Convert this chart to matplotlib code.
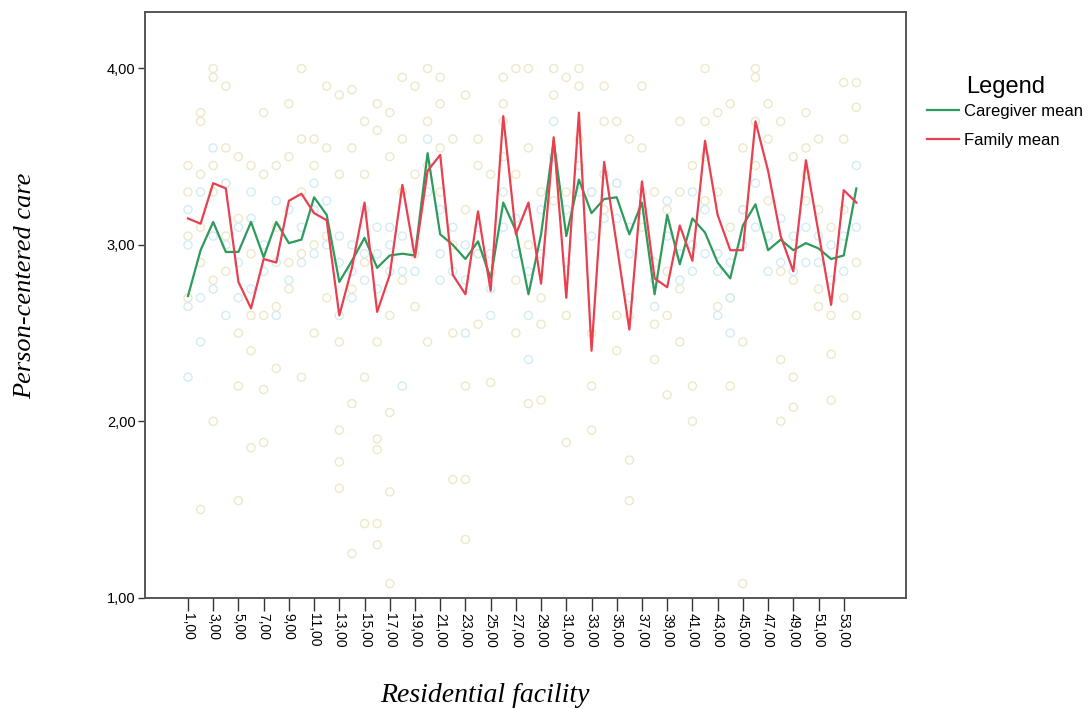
import numpy as np
import matplotlib
matplotlib.use('Agg')
import matplotlib.pyplot as plt

# Facility numbers 1..54 and the two mean lines
facilities = list(range(1, 55))

caregiver_mean = [2.71, 2.97, 3.13, 2.96, 2.96, 3.13, 2.93, 3.13, 3.01, 3.03,
                  3.27, 3.17, 2.79, 2.91, 3.04, 2.87, 2.94, 2.95, 2.94, 3.52,
                  3.06, 3.00, 2.92, 3.02, 2.81, 3.24, 3.08, 2.72, 3.06, 3.59,
                  3.05, 3.37, 3.18, 3.26, 3.27, 3.06, 3.24, 2.72, 3.17, 2.89,
                  3.15, 3.07, 2.90, 2.81, 3.11, 3.23, 2.97, 3.03, 2.97, 3.01,
                  2.98, 2.92, 2.94, 3.32]

family_mean = [3.15, 3.12, 3.35, 3.32, 2.79, 2.64, 2.92, 2.90, 3.25, 3.29,
               3.18, 3.14, 2.60, 2.87, 3.24, 2.62, 2.83, 3.34, 2.93, 3.42,
               3.51, 2.83, 2.72, 3.19, 2.74, 3.73, 3.06, 3.24, 2.78, 3.61,
               2.70, 3.75, 2.40, 3.47, 3.00, 2.52, 3.36, 2.81, 2.76, 3.11,
               2.91, 3.59, 3.17, 2.97, 2.97, 3.70, 3.42, 3.05, 2.85, 3.48,
               3.07, 2.66, 3.31, 3.24]

# individual answers (faint circles), one list per facility
family_points = [
    [3.45, 3.3, 3.05, 2.7], [3.75, 3.7, 3.4, 1.5, 2.9, 3.1],
    [4.0, 3.95, 3.45, 3.3, 2.0, 2.8], [3.9, 3.55, 3.35, 2.85, 3.05],
    [3.5, 3.15, 2.5, 1.55, 2.2], [3.45, 2.95, 2.4, 1.85, 2.6],
    [3.75, 3.4, 2.18, 1.88, 2.6], [3.45, 3.1, 2.65, 2.3],
    [3.8, 3.5, 2.9, 2.75], [4.0, 3.6, 3.3, 2.95, 2.25],
    [3.6, 3.45, 3.0, 2.5], [3.9, 3.55, 3.05, 2.7],
    [3.85, 3.4, 2.45, 1.95, 1.77, 1.62], [3.88, 3.55, 2.75, 2.1, 1.25],
    [3.7, 3.4, 2.9, 2.25, 1.42], [3.8, 3.65, 2.45, 1.9, 1.84, 1.42, 1.3],
    [3.75, 3.5, 2.6, 2.05, 1.6, 1.08], [3.95, 3.6, 3.3, 2.8],
    [3.9, 3.4, 2.95, 2.65], [4.0, 3.7, 3.45, 2.45],
    [3.95, 3.8, 3.55, 3.3], [3.6, 3.0, 2.5, 1.67],
    [3.85, 3.2, 2.2, 1.67, 1.33], [3.6, 3.45, 2.95, 2.55],
    [3.4, 2.85, 2.22], [3.95, 3.8, 3.7, 3.5],
    [4.0, 3.4, 2.8, 2.5], [4.0, 3.55, 3.0, 2.1],
    [3.3, 2.7, 2.55, 2.12], [4.0, 3.85, 3.5, 3.25],
    [3.95, 3.3, 2.6, 1.88], [4.0, 3.9, 3.6, 3.45],
    [3.3, 2.5, 2.2, 1.95], [3.9, 3.7, 3.4, 3.2],
    [3.7, 3.35, 2.6, 2.4], [3.6, 2.6, 1.78, 1.55],
    [3.9, 3.55, 3.2, 3.1], [3.3, 2.9, 2.55, 2.35],
    [3.2, 2.85, 2.6, 2.15], [3.7, 3.3, 2.75, 2.45],
    [3.45, 3.0, 2.2, 2.0], [4.0, 3.7, 3.5, 3.25],
    [3.75, 3.3, 2.95, 2.65], [3.8, 3.1, 2.7, 2.2],
    [3.55, 3.2, 2.45, 1.08], [4.0, 3.95, 3.7, 3.45],
    [3.8, 3.6, 3.25, 3.05], [3.7, 2.85, 2.35, 2.0],
    [3.5, 2.8, 2.25, 2.08], [3.75, 3.55, 3.4, 3.25],
    [3.6, 3.2, 2.75, 2.65], [3.1, 2.6, 2.38, 2.12],
    [3.92, 3.6, 3.2, 2.7], [3.92, 3.78, 2.9, 2.6],
]

caregiver_points = [
    [2.25, 2.65, 3.0, 3.2], [2.45, 2.7, 3.3], [3.55, 2.75, 3.05],
    [3.0, 2.6, 3.35], [2.7, 3.1, 2.9], [3.3, 2.75, 3.15], [2.85, 3.0],
    [3.25, 2.9, 2.6], [3.2, 2.8], [3.1, 2.9], [3.35, 3.2, 2.95],
    [3.25, 3.0], [2.9, 2.6, 3.05], [3.0, 2.85, 2.7], [3.2, 2.95, 2.8],
    [2.95, 2.75, 3.1], [3.0, 2.85, 3.1], [3.05, 2.85, 2.2], [3.0, 2.85],
    [3.6, 3.3], [3.2, 2.95, 2.8], [3.1, 2.85], [3.0, 2.8, 2.5],
    [3.1, 2.95], [2.95, 2.75, 2.6], [3.3, 3.1], [3.15, 2.95],
    [2.85, 2.6, 2.35], [3.2, 2.95], [3.7, 3.5], [3.2, 2.9], [3.45, 3.3],
    [3.3, 3.05], [3.4, 3.15], [3.35, 3.15], [3.1, 2.95, 2.7], [3.3, 3.2],
    [2.8, 2.65], [3.25, 3.05], [2.95, 2.8], [3.3, 3.0, 2.85], [3.2, 2.95],
    [2.95, 2.85, 2.6], [2.9, 2.7, 2.5], [3.2, 3.0], [3.35, 3.1],
    [3.05, 2.85], [3.15, 2.9], [3.05, 2.85], [3.1, 2.9], [3.05, 2.9],
    [3.0, 2.8], [3.05, 2.85], [3.45, 3.1],
]

x_ticks = list(range(1, 54, 2))
x_tick_labels = ['%d,00' % v for v in x_ticks]
y_ticks = [1, 2, 3, 4]
y_tick_labels = ['1,00', '2,00', '3,00', '4,00']

fig = plt.figure(figsize=(10.91, 7.09), dpi=100)
ax = fig.add_axes([0.133, 0.157, 0.697, 0.826])

# scatter of single answers (very faint in the original)
for i, vals in enumerate(family_points):
    ax.scatter([facilities[i]] * len(vals), vals, s=34, facecolors='none',
               edgecolors='#eee8c8', linewidths=1.0, zorder=1)
for i, vals in enumerate(caregiver_points):
    ax.scatter([facilities[i]] * len(vals), vals, s=34, facecolors='none',
               edgecolors='#d2ecf4', linewidths=1.0, zorder=1)

ax.plot(facilities, caregiver_mean, color='#2e9a5c', lw=1.6,
        label='Caregiver mean', zorder=3)
ax.plot(facilities, family_mean, color='#e8404f', lw=1.6,
        label='Family mean', zorder=4)

ax.set_xlim(-2.4, 57.9)
ax.set_ylim(1.0, 4.32)

ax.set_xticks(x_ticks)
ax.set_xticklabels(x_tick_labels, rotation=-90, fontsize=10,
                   family='Liberation Sans')
ax.set_yticks(y_ticks)
ax.set_yticklabels(y_tick_labels, fontsize=10.5, family='Liberation Sans')
ax.tick_params(axis='x', length=9, width=1, color='#333333', pad=2)
ax.tick_params(axis='y', length=5, width=1, color='#333333', pad=2)

for s in ax.spines.values():
    s.set_color('#555555')
    s.set_linewidth(1.4)

ax.set_xlabel('Residential facility', fontsize=20, style='italic',
              family='Liberation Serif', labelpad=22)
ax.xaxis.set_label_coords(0.447, -0.145)
ax.set_ylabel('Person-centered care', fontsize=19, style='italic',
              family='Liberation Serif')
ax.yaxis.set_label_coords(-0.143, 0.532)

leg = ax.legend(loc='upper left', bbox_to_anchor=(1.009, 0.916), frameon=False,
                title='Legend', handlelength=1.9, handletextpad=0.3,
                labelspacing=0.85,
                prop={'family': 'Liberation Sans', 'size': 12})
leg.get_title().set_fontsize(17)
leg.get_title().set_family('Liberation Sans')
leg._legend_box.sep = 4

plt.savefig('out.png', dpi=100)
